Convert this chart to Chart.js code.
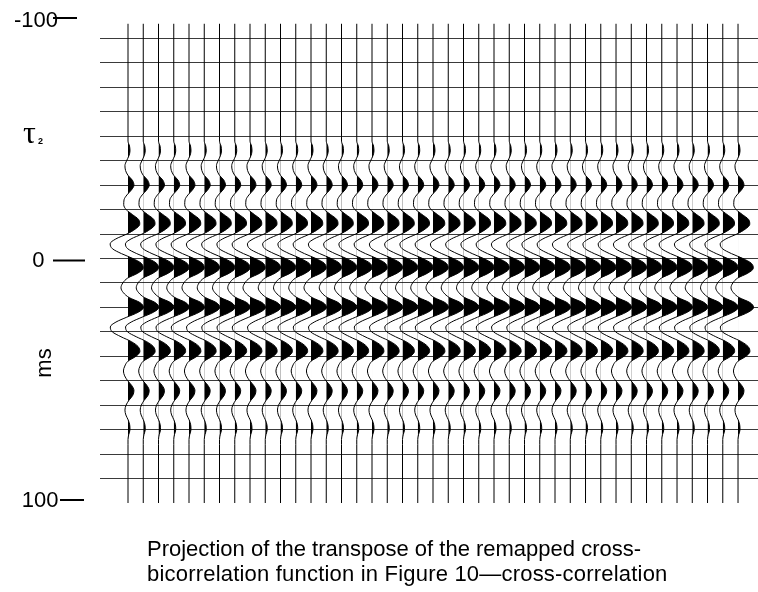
<!DOCTYPE html>
<html>
<head>
<meta charset="utf-8">
<script src="https://cdn.jsdelivr.net/npm/chart.js@4.4.0/dist/chart.umd.min.js"></script>
<style>
  html, body { margin: 0; padding: 0; background: #fff; }
  #wrap { position: relative; width: 758px; height: 592px; overflow: hidden; }
  #chart { position: absolute; left: 0; top: 0; }
  #caption {
    position: absolute; left: 147px; top: 536px;
    font: 22px "Liberation Sans", Arial, sans-serif;
    line-height: 25px; color: #000; white-space: nowrap;
  }
  #caption .wide { letter-spacing: 0.2px; }
</style>
</head>
<body>
<div id="wrap">
  <canvas id="chart" width="758" height="592"></canvas>
  <div id="caption">Projection of the transpose of the remapped cross-<br><span class="wide">bicorrelation function in Figure 10—cross-correlation</span></div>
</div>
<script>
// Trace numbers (one wiggle trace per column)
const traceNumbers = [
  1, 2, 3, 4, 5, 6, 7, 8, 9, 10,
  11, 12, 13, 14, 15, 16, 17, 18, 19, 20,
  21, 22, 23, 24, 25, 26, 27, 28, 29, 30,
  31, 32, 33, 34, 35, 36, 37, 38, 39, 40, 41
];

// Lag tau2 of each sample, ms
const tauMs = [
  -96, -50, -48, -46, -44, -42, -40, -38, -36, -34, -32, -30, -28, -26,
  -24, -22, -20, -18, -16, -14, -12, -10, -8, -6, -4, -2, 0, 2, 4, 6,
  8, 10, 12, 14, 16, 18, 20, 22, 24, 26, 28, 30, 32, 34, 36, 38, 40,
  42, 44, 46, 48, 50, 52, 54, 56, 58, 60, 62, 64, 66, 68, 70, 72, 74, 76, 100
];

// Correlation amplitude at each lag (1 = one trace spacing)
const amplitude = [
  0, 0, 0, 0.10, 0.13, 0.06, -0.09, -0.20, -0.16, 0, 0.29, 0.39, 0.22, -0.07,
  -0.26, -0.28, -0.12, 0.28, 0.69, 0.77, 0.47, -0.08, -0.80, -1.17, -1.02, -0.43, 0.32, 0.88, 1.00, 0.64,
  -0.02, -0.34, -0.46, -0.30, 0.08, 0.78, 1.02, 0.66, -0.08, -0.79, -1.16, -1.03, -0.46, 0.22, 0.66, 0.78, 0.52,
  0, -0.21, -0.30, -0.22, -0.02, 0.25, 0.39, 0.31, 0.06, -0.13, -0.20, -0.14, 0.01, 0.11, 0.13, 0.05, 0, 0, 0
];

// Labelled lags on the vertical axis
const tauTickValues = [-100, 0, 100];
const tauTickLabels = ['-100', '0', '100'];

const datasets = traceNumbers.map(n => ({
  trace: n,
  data: tauMs.map((t, k) => ({ x: n + amplitude[k], y: t })),
  borderColor: '#000',
  borderWidth: 1,
  pointRadius: 0,
  fill: false,
  cubicInterpolationMode: 'monotone'
}));

// Fills the positive (right-hand) lobes of every wiggle in black
const positiveFill = {
  id: 'positiveFill',
  afterDatasetsDraw(chart) {
    const { ctx, chartArea: a, scales: { x } } = chart;
    ctx.save();
    ctx.fillStyle = '#000';
    chart.data.datasets.forEach((ds, i) => {
      const meta = chart.getDatasetMeta(i);
      const line = meta.dataset;
      const pts = meta.data;
      if (!line || !pts.length) return;
      const base = x.getPixelForValue(ds.trace);
      ctx.save();
      ctx.beginPath();
      ctx.rect(base, a.top, a.right - base, a.bottom - a.top);
      ctx.clip();
      ctx.beginPath();
      line.path(ctx);
      ctx.lineTo(base, pts[pts.length - 1].y);
      ctx.lineTo(base, pts[0].y);
      ctx.closePath();
      ctx.fill();
      ctx.restore();
    });
    ctx.restore();
  }
};

// Axis annotation: lag labels with dashes, tau2 symbol and unit
const axisText = {
  id: 'axisText',
  afterDraw(chart) {
    const { ctx, scales: { y } } = chart;
    const marks = [
      { dashDy: 4, textDy: 9, textRight: 58, dash: [53, 77] },
      { dashDy: 2, textDy: 6, textRight: 44.5, dash: [53, 85] },
      { dashDy: -3, textDy: 7, textRight: 58.5, dash: [60, 84] }
    ];
    ctx.save();
    ctx.fillStyle = '#000';
    ctx.strokeStyle = '#000';
    ctx.font = '22px "Liberation Sans", Arial, sans-serif';
    ctx.textBaseline = 'alphabetic';
    tauTickValues.forEach((v, i) => {
      const m = marks[i];
      const py = y.getPixelForValue(v) + m.dashDy;
      ctx.textAlign = 'right';
      ctx.fillText(tauTickLabels[i], m.textRight, py + m.textDy);
      ctx.lineWidth = 2;
      ctx.beginPath();
      ctx.moveTo(m.dash[0], py);
      ctx.lineTo(m.dash[1], py);
      ctx.stroke();
    });

    // tau with subscript 2
    ctx.textAlign = 'left';
    ctx.font = '32px "Liberation Serif", "Times New Roman", serif';
    ctx.fillText('τ', 23, 143);
    ctx.font = 'bold 9px "Liberation Sans", Arial, sans-serif';
    ctx.fillText('2', 38, 144);

    // unit, reading bottom to top
    ctx.font = '22px "Liberation Sans", Arial, sans-serif';
    ctx.translate(51, 363);
    ctx.rotate(-Math.PI / 2);
    ctx.textAlign = 'center';
    ctx.fillText('ms', 0, 0);
    ctx.restore();
  }
};

new Chart(document.getElementById('chart'), {
  type: 'line',
  data: { datasets },
  options: {
    indexAxis: 'y',
    responsive: false,
    animation: false,
    events: [],
    layout: { padding: { left: 100, right: 0, top: 14, bottom: 89 } },
    plugins: { legend: { display: false }, tooltip: { enabled: false } },
    scales: {
      x: { type: 'linear', min: -0.836, max: 42.31, display: false },
      y: {
        type: 'linear', min: -100, max: 100, reverse: true,
        ticks: { stepSize: 10, display: false },
        grid: {
          color: c => (Math.abs(c.tick.value) === 100 ? 'rgba(0,0,0,0)' : '#3a3a3a'),
          lineWidth: 1,
          drawTicks: false
        },
        border: { display: false }
      }
    }
  },
  plugins: [positiveFill, axisText]
});
</script>
</body>
</html>
